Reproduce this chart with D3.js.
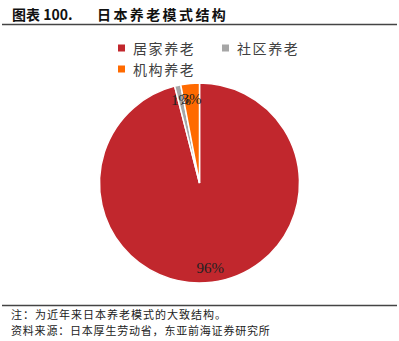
<!DOCTYPE html>
<html>
<head>
<meta charset="utf-8">
<script src="https://cdn.jsdelivr.net/npm/d3@7"></script>
<style>
  body { margin: 0; background: #fff; }
  svg { display: block; }
</style>
</head>
<body>
<svg></svg>
<script>
// categories and their shares (percent)
const categories = ['居家养老', '社区养老', '机构养老']
const shares = [96, 1, 3]
const labels = ['96%', '1%', '3%']
const colors = ['#C1272D', '#A6A6A6', '#FF6A00']

const width = 399
const height = 341

const svg = d3.select('svg')
  .attr('width', width)
  .attr('height', height)

const cjk = '"Noto Sans CJK SC", "Noto Sans", sans-serif'

// title, in two pieces so the wide gap stays
svg.append('text')
  .attr('x', 12)
  .attr('y', 20)
  .attr('font-family', cjk)
  .attr('font-weight', 'bold')
  .attr('font-size', 14)
  .attr('fill', '#111')
  .text('图表 100.')

svg.append('text')
  .attr('x', 97)
  .attr('y', 20)
  .attr('font-family', cjk)
  .attr('font-weight', 'bold')
  .attr('font-size', 14)
  .attr('letter-spacing', 2.4)
  .attr('fill', '#111')
  .text('日本养老模式结构')

// rules above and below the chart
svg.append('line')
  .attr('x1', 2).attr('x2', 397)
  .attr('y1', 24.5).attr('y2', 24.5)
  .attr('stroke', '#444').attr('stroke-width', 1.5)

svg.append('line')
  .attr('x1', 2).attr('x2', 397)
  .attr('y1', 305.5).attr('y2', 305.5)
  .attr('stroke', '#444').attr('stroke-width', 1.5)

// legend
const legendPos = [[118, 48], [222, 48], [118, 69]]
const legend = svg.append('g')
  .selectAll('g')
  .data(categories)
  .join('g')
  .attr('transform', (d, i) => `translate(${legendPos[i][0]}, ${legendPos[i][1]})`)

legend.append('rect')
  .attr('x', 0).attr('y', -3.5)
  .attr('width', 7).attr('height', 7)
  .attr('fill', (d, i) => colors[i])

legend.append('text')
  .attr('x', 15)
  .attr('y', 5.5)
  .attr('font-family', cjk)
  .attr('font-size', 14)
  .attr('letter-spacing', 1.6)
  .attr('fill', '#404040')
  .text(d => d)

// pie
const cx = 199.5
const cy = 183
const radius = 100

const pie = d3.pie().sort(null)
const arc = d3.arc().innerRadius(0).outerRadius(radius)
const labelArc = d3.arc().innerRadius(85).outerRadius(85)

const arcs = pie(shares)

const g = svg.append('g')
  .attr('transform', `translate(${cx}, ${cy})`)

g.selectAll('path')
  .data(arcs)
  .join('path')
  .attr('d', arc)
  .attr('fill', (d, i) => colors[i])
  .attr('stroke', '#fff')
  .attr('stroke-width', 1.5)

g.selectAll('text')
  .data(arcs)
  .join('text')
  .attr('transform', d => `translate(${labelArc.centroid(d)})`)
  .attr('text-anchor', 'middle')
  .attr('dy', '0.35em')
  .attr('font-family', '"Liberation Serif", serif')
  .attr('font-size', 15)
  .attr('fill', '#222')
  .text((d, i) => labels[i])

// footnotes
svg.append('text')
  .attr('x', 11).attr('y', 319)
  .attr('font-family', cjk).attr('font-size', 11).attr('letter-spacing', 1)
  .attr('fill', '#222')
  .text('注：为近年来日本养老模式的大致结构。')

svg.append('text')
  .attr('x', 11).attr('y', 335)
  .attr('font-family', cjk).attr('font-size', 11).attr('letter-spacing', 0.8)
  .attr('fill', '#222')
  .text('资料来源：日本厚生劳动省，东亚前海证券研究所')
</script>
</body>
</html>
